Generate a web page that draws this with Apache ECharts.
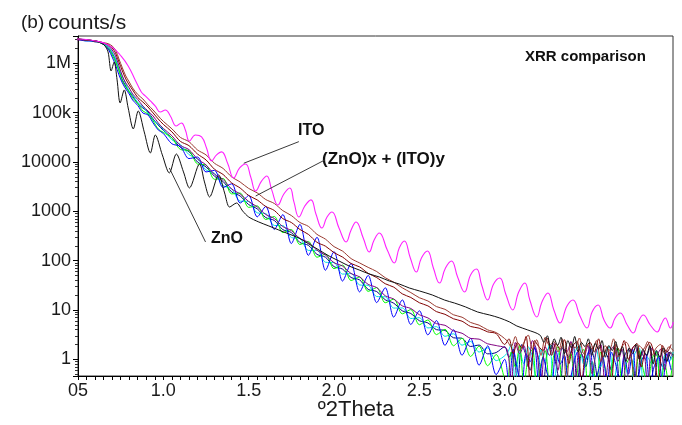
<!DOCTYPE html>
<html><head><meta charset="utf-8">
<script src="https://cdn.jsdelivr.net/npm/echarts@6/dist/echarts.min.js"></script>
<style>html,body{margin:0;padding:0;background:#fff}#c{width:682px;height:425px}</style>
</head><body><div id="c"></div>
<script>
// ---- axis tick labels ----
const xTickValues = [0.5, 1.0, 1.5, 2.0, 2.5, 3.0, 3.5];
const xTickText = ['05', '1.0', '1.5', '2.0', '2.5', '3.0', '3.5'];
const yTickValues = [1, 10, 100, 1000, 10000, 100000, 1000000];
const yTickText = ['1', '10', '100', '1000', '10000', '100k', '1M'];

// ---- 2Theta sampling for the (ZnO)x + (ITO)y family ----
const mainX = [0.49,0.55,0.60,0.64,0.66,0.68,0.70,0.72,0.74,0.76,0.78,0.80,0.82,0.85,0.88,0.91,0.94,0.97,
1.00,1.05,1.10,1.15,1.20,1.25,1.30,1.35,1.40,1.45,1.50,1.55,1.60,1.65,1.70,1.75,1.80,1.85,1.90,1.95,
2.00,2.05,2.10,2.15,2.20,2.25,2.30,2.35,2.40,2.45,2.50,2.55,2.60,2.65,2.70,2.75,2.80,2.85,2.90,2.95];
const noiseXA = [3.000,3.025,3.050,3.075,3.100,3.125,3.150,3.175,3.200,3.225,3.250,3.275,3.300,3.325,3.350,3.375,3.400,3.425,3.450,3.475,
3.500,3.525,3.550,3.575,3.600,3.625,3.650,3.675,3.700,3.725,3.750,3.775,3.800,3.825,3.850,3.875,3.900,3.925,3.950,3.975];
const noiseXB = [3.0125,3.0375,3.0625,3.0875,3.1125,3.1375,3.1625,3.1875,3.2125,3.2375,3.2625,3.2875,3.3125,3.3375,3.3625,3.3875,3.4125,3.4375,3.4625,3.4875,
3.5125,3.5375,3.5625,3.5875,3.6125,3.6375,3.6625,3.6875,3.7125,3.7375,3.7625,3.7875,3.8125,3.8375,3.8625,3.8875,3.9125,3.9375,3.9625,3.9875];

const brownY = [3.11e6,2.97e6,2.84e6,2.64e6,2.58e6,2.47e6,2.24e6,1.86e6,1.22e6,8.04e5,5.53e5,4.19e5,3.16e5,2.33e5,1.89e5,1.43e5,1.13e5,8.55e4,
6.64e4,4.70e4,3.14e4,2.58e4,1.75e4,1.39e4,9380,7380,4980,3920,2900,2360,1730,1440,1030,820,593,494,341,272,
192,156,110,89.7,72.9,60.1,45.0,36.6,28.1,22.5,17.7,15.2,11.7,10.3,7.98,7.13,5.58,4.92,3.95,3.48,
2.4,1.8,2.9,1.5,2.2,3.1,1.6,2.5,1.2,2.8,1.9,2.3,1.4,2.6,0.3,2.1,1.7,2.7,1.3,2.0,1.6,2.4,0.9,1.9,1.5,2.6,1.1,1.8,2.2,1.4,0.3,1.9,1.6,2.3,1.2,1.7,2.0,1.3,1.8,1.5];

const maroonY = [3.11e6,2.97e6,2.84e6,2.64e6,2.47e6,2.35e6,2.05e6,1.62e6,1.06e6,6.98e5,4.81e5,3.64e5,2.88e5,2.03e5,1.64e5,1.30e5,9.84e4,7.43e4,
5.77e4,4.08e4,2.61e4,2.14e4,1.45e4,1.10e4,7100,5570,3770,2960,2090,1700,1250,1040,710,592,428,340,235,196,
145,118,87.3,74.5,55.2,45.4,34.0,29.0,21.2,17.9,14.0,12.1,9.25,8.17,6.62,5.92,4.63,4.28,3.60,3.32,
2.0,2.6,1.3,2.2,1.7,2.9,0.3,2.4,1.8,1.5,2.7,1.2,2.1,1.6,2.5,0.8,1.9,2.3,0.3,1.7,2.2,1.4,2.6,1.1,1.8,0.3,2.0,1.5,2.4,1.0,1.7,2.1,0.7,1.6,2.2,1.3,0.3,1.9,1.4,2.0];

const purpleY = [2.97e6,2.97e6,2.84e6,2.64e6,2.47e6,2.24e6,1.86e6,1.41e6,8.83e5,5.53e5,3.99e5,3.16e5,2.39e5,1.85e5,1.36e5,1.08e5,8.55e4,6.17e4,
4.79e4,3.39e4,2.16e4,1.78e4,1.15e4,8710,5610,4420,2840,2240,1580,1230,859,714,489,406,281,234,162,129,
91.0,77.4,54.8,46.7,33.0,28.4,19.4,16.6,12.1,10.7,8.0,6.90,5.28,4.89,3.78,3.37,2.65,2.56,2.06,1.90,
1.6,0.3,2.2,1.3,1.9,0.7,2.4,1.5,0.3,1.8,1.2,2.1,0.6,1.7,1.4,2.3,0.3,1.6,1.1,1.9,0.5,1.5,2.0,0.3,1.3,1.8,0.9,1.6,0.3,1.4,1.9,1.0,1.5,0.3,1.7,1.2,1.6,0.6,1.4,1.1];

const cyanY = [3.11e6,2.84e6,2.84e6,2.52e6,2.36e6,2.14e6,1.69e6,1.22e6,7.67e5,5.27e5,3.80e5,2.75e5,2.28e5,1.61e5,1.30e5,9.84e4,7.10e4,5.87e4,
4.56e4,2.81e4,2.26e4,1.41e4,1.15e4,6890,5870,3330,2840,1610,1580,929,899,516,512,294,281,161,162,92.7,
91.0,53.3,54.8,32.1,31.5,18.7,18.5,10.9,11.0,6.70,6.97,4.32,4.59,2.92,3.29,1.93,2.30,1.40,1.71,0.94,
1.3,2.0,0.3,1.5,0.8,1.8,1.1,0.3,1.6,0.9,2.1,0.3,1.2,1.7,0.6,0.3,1.4,1.9,0.8,1.2,0.3,1.6,0.7,1.3,1.8,0.3,1.0,1.5,0.6,0.3,1.3,1.7,0.3,1.1,0.8,1.5,0.3,1.2,0.9,1.4];

const navyY = [3.11e6,2.97e6,2.71e6,2.64e6,2.36e6,2.04e6,1.62e6,1.17e6,7.33e5,4.59e5,3.47e5,2.62e5,2.17e5,1.53e5,1.24e5,1.03e5,7.43e4,5.61e4,
4.36e4,3.08e4,1.97e4,1.62e4,9980,7930,5120,4020,2470,2040,1370,1120,746,652,425,371,233,204,134,117,
75.5,67.3,45.5,40.6,26.1,23.6,16.1,13.7,9.59,8.47,6.05,5.46,3.99,3.86,2.73,2.67,1.82,1.94,1.29,1.37,
1.8,1.1,1.6,0.3,2.0,1.2,0.6,1.7,1.0,0.3,1.5,1.9,0.8,0.3,1.6,1.1,2.0,0.3,1.3,0.7,1.8,1.0,0.3,1.5,1.2,0.6,1.7,0.3,1.1,1.6,0.8,0.3,1.4,1.0,1.8,0.3,1.2,0.7,1.5,1.0];

const limeY = [3.11e6,2.97e6,2.84e6,2.52e6,2.24e6,1.95e6,1.48e6,1.06e6,7.00e5,4.38e5,3.31e5,2.62e5,1.98e5,1.53e5,1.08e5,9.40e4,6.78e4,4.66e4,
3.97e4,3.08e4,1.79e4,1.70e4,9080,8710,4450,4620,2250,2340,1200,1290,681,785,369,427,212,245,117,135,
68.7,81.1,39.5,46.7,23.8,28.4,14.0,16.6,8.34,10.2,5.02,6.28,3.16,4.06,1.88,2.67,1.14,1.85,0.74,1.25,
0.3,1.4,0.7,1.9,0.3,1.1,1.6,0.3,0.8,1.5,0.3,1.2,1.8,0.3,0.6,1.3,0.3,1.0,1.6,0.3,0.9,0.3,1.4,0.7,0.3,1.2,1.7,0.3,0.8,1.1,0.3,1.5,0.6,0.3,1.0,1.4,0.3,0.8,0.3,1.2];

const blueY = [3.11e6,2.84e6,2.84e6,2.52e6,2.24e6,1.86e6,1.34e6,9.25e5,5.81e5,3.99e5,3.01e5,2.39e5,1.80e5,1.40e5,9.84e4,8.97e4,6.17e4,4.45e4,
3.78e4,2.33e4,2.06e4,1.17e4,1.26e4,6280,6760,3040,3600,1470,2090,771,1250,428,855,222,541,128,297,63.8,
152,38.5,87.3,23.2,50.2,14.1,28.2,7.14,16.0,5.07,9.64,3.12,6.08,1.92,3.96,1.21,2.65,0.76,1.87,0.49,
1.0,0.3,1.6,0.6,0.3,1.3,0.9,1.8,0.3,1.1,0.5,0.3,1.5,0.8,1.2,0.3,0.7,1.4,0.3,1.0,1.6,0.3,0.6,1.1,0.3,1.4,0.8,0.3,1.2,0.5,1.6,0.3,0.9,1.3,0.3,0.7,1.1,0.3,1.3,0.6];

// ---- ZnO (black) ----
const znoData = [[0.488,3.11e6],[0.559,2.97e6],[0.618,2.71e6],[0.653,2.35e6],[0.676,1.70e6],[0.694,6.98e5],[0.712,1.06e6],[0.729,4.6e5],[0.747,1.57e5],[0.771,2.88e5],[0.794,1.24e5],[0.824,4.67e4],[0.853,1.08e5],[0.888,4.06e4],[0.924,1.52e4],[0.953,3.52e4],[0.994,1.39e4],[1.035,5980],[1.076,1.45e4],[1.118,6270],[1.153,2970],[1.212,9100],[1.241,3930],[1.271,1950],[1.324,5450],[1.359,2350],[1.388,1220],[1.429,1470],[1.465,1010],[1.5,767],[1.559,607],[1.618,504],[1.676,418],[1.735,347],[1.794,288],[1.853,217],[1.912,164],[1.971,124],[2.029,98.4],[2.088,77.8],[2.147,64.7],[2.206,53.7],[2.265,46.6],[2.324,38.6],[2.382,33.6],[2.441,27.9],[2.5,24.3],[2.576,20.1],[2.647,15.9],[2.706,13.8],[2.771,11.5],[2.841,9.1],[2.912,7.9],[2.971,6.87],[3.029,5.7],[3.071,4.73],[3.135,3.93],[3.206,3.11],
[3.23,2.2],[3.25,3.0],[3.27,1.6],[3.29,2.6],[3.31,1.9],[3.33,2.8],[3.35,1.3],[3.37,2.4],[3.39,1.7],[3.41,2.9],[3.43,1.4],[3.45,2.2],[3.47,1.8],[3.49,2.6],[3.51,1.2],[3.53,2.1],[3.55,1.6],[3.57,2.4],[3.59,1.1],[3.61,1.9],[3.63,1.5],[3.65,2.3],[3.67,1.2],[3.69,1.8],[3.71,0.9],[3.73,1.7],[3.75,1.3],[3.77,2.0],[3.79,1.0],[3.81,1.6],[3.83,1.2],[3.85,1.9],[3.87,0.8],[3.89,1.5],[3.91,1.1],[3.93,1.7],[3.95,0.9],[3.97,1.4],[3.99,1.2]];

// ---- ITO (magenta) ----
const itoData = [[0.488,3.11e6],[0.571,2.97e6],[0.629,2.71e6],[0.665,2.47e6],[0.706,2.05e6],[0.747,1.47e6],[0.794,8.83e5],[0.835,4.6e5],[0.871,2.62e5],[0.894,2.18e5],[0.924,1.72e5],[0.953,1.36e5],[0.982,1.03e5],[1.012,1.13e5],[1.041,8.55e4],[1.076,5.37e4],[1.106,6.17e4],[1.129,4.45e4],[1.153,2.66e4],[1.188,3.52e4],[1.224,3.21e4],[1.253,1.92e4],[1.282,1.05e4],[1.312,1.39e4],[1.341,1.6e4],[1.376,9540],[1.412,4730],[1.447,7550],[1.482,9100],[1.512,4960],[1.541,2580],[1.576,4120],[1.606,5200],[1.635,2710],[1.671,1340],[1.706,2245],[1.741,2970],[1.765,1545],[1.794,767],[1.829,1280],[1.865,1700],[1.894,883],[1.929,459],[1.959,767],[1.988,968],[2.029,459],[2.071,239],[2.1,418],[2.129,607],[2.171,288],[2.206,150],[2.235,262],[2.265,364],[2.312,164],[2.353,89.5],[2.382,180],[2.412,250],[2.447,113],[2.482,58.9],[2.512,113],[2.547,157],[2.582,70.9],[2.618,35.2],[2.653,70.9],[2.688,98.4],[2.724,46.6],[2.765,23.1],[2.8,51.2],[2.835,67.6],[2.865,32.1],[2.9,15.9],[2.935,33.6],[2.971,44.5],[3.006,21.1],[3.047,10],[3.082,23.1],[3.118,35.2],[3.147,15.9],[3.188,7.2],[3.218,14.5],[3.253,22.1],[3.288,10],[3.324,5.44],[3.365,12.0],[3.4,15.9],[3.441,7.55],[3.482,4.31],[3.512,9.1],[3.547,12.6],[3.582,6.26],[3.618,4.31],[3.647,6.87],[3.676,8.69],[3.718,4.96],[3.753,3.41],[3.782,5.7],[3.812,7.91],[3.853,4.96],[3.894,3.58],[3.918,5.2],[3.941,6.87],[3.971,4.31],[3.988,5.7]];

// ---- annotation pointer lines (data coordinates) ----
const itoPointer = [[1.794, 25800], [1.471, 9400]];
const mixPointer = [[1.947, 11000], [1.541, 2040]];
const znoPointer = [[1.247, 239], [1.035, 7550]];

const mixFamily = [
  {y: navyY, color: '#000080', nx: noiseXA},
  {y: cyanY, color: '#00e0e0', nx: noiseXB},
  {y: limeY, color: '#00ff00', nx: noiseXB},
  {y: blueY, color: '#0000ff', nx: noiseXA},
  {y: purpleY, color: '#800080', nx: noiseXB},
  {y: maroonY, color: '#800000', nx: noiseXA},
  {y: brownY, color: '#9a3a30', nx: noiseXB}
];

function lineSeries(data, color, width, smooth) {
  return {type: 'line', data: data, symbol: 'none', showSymbol: false, clip: true, silent: true, smooth: smooth,
    lineStyle: {color: color, width: width}, emphasis: {disabled: true}, z: 2};
}
const series = mixFamily.map(s => {
  const xs = mainX.concat(s.nx);
  return lineSeries(xs.map((x, i) => [x, s.y[i]]), s.color, 1, 0.3);
});
series.push(lineSeries(znoData, '#111111', 1, 0.3));
series.push(lineSeries(itoData, '#ff22ff', 1.1, 0.45));
[itoPointer, mixPointer, znoPointer].forEach(p => series.push(lineSeries(p, '#3a3a3a', 1, false)));

const labelFont = 'Liberation Sans';
const chart = echarts.init(document.getElementById('c'));
chart.setOption({
  animation: false,
  backgroundColor: '#ffffff',
  grid: {left: 78, right: 9, top: 36, bottom: 49, show: true, borderColor: '#333', borderWidth: 1, backgroundColor: 'transparent'},
  xAxis: {
    type: 'value', min: 0.5, max: 3.986, interval: 0.05,
    axisLine: {onZero: false, lineStyle: {color: '#000', width: 1}},
    axisTick: {show: true, length: 4, lineStyle: {color: '#000'}},
    splitLine: {show: false},
    axisLabel: {
      fontFamily: labelFont, fontSize: 18, color: '#1a1a1a', margin: 6, showMaxLabel: false,
      formatter: function (v) {
        for (let i = 0; i < xTickValues.length; i++) if (Math.abs(v - xTickValues[i]) < 1e-6) return xTickText[i];
        return '';
      }
    }
  },
  yAxis: {
    type: 'log', logBase: 10, min: 0.4585, max: 3.57e6,
    axisLine: {show: true, lineStyle: {color: '#000', width: 1}},
    axisTick: {show: true, length: 5, lineStyle: {color: '#000'}},
    minorTick: {show: true, splitNumber: 9, length: 3, lineStyle: {color: '#333'}},
    splitLine: {show: false}, minorSplitLine: {show: false},
    axisLabel: {
      fontFamily: labelFont, fontSize: 18, color: '#1a1a1a', margin: 7, showMinLabel: false, showMaxLabel: false,
      formatter: function (v) {
        for (let i = 0; i < yTickValues.length; i++) if (Math.abs(v / yTickValues[i] - 1) < 1e-6) return yTickText[i];
        return '';
      }
    }
  },
  series: series,
  graphic: [
    {type: 'text', x: 21, y: 23, style: {text: '(b)', fontFamily: labelFont, fontSize: 19, fill: '#1a1a1a', align: 'left', verticalAlign: 'middle', textAlign: 'left', textVerticalAlign: 'middle'}},
    {type: 'text', x: 48, y: 23, style: {text: 'counts/s', fontFamily: labelFont, fontSize: 21, fill: '#1a1a1a', align: 'left', verticalAlign: 'middle', textAlign: 'left', textVerticalAlign: 'middle'}},
    {type: 'text', x: 525, y: 57, style: {text: 'XRR comparison', fontFamily: labelFont, fontWeight: 'bold', fontSize: 15, fill: '#111', align: 'left', verticalAlign: 'middle', textAlign: 'left', textVerticalAlign: 'middle'}},
    {type: 'text', x: 298, y: 131, style: {text: 'ITO', fontFamily: labelFont, fontWeight: 'bold', fontSize: 16, fill: '#111', align: 'left', verticalAlign: 'middle', textAlign: 'left', textVerticalAlign: 'middle'}},
    {type: 'text', x: 322, y: 159, style: {text: '(ZnO)x + (ITO)y', fontFamily: labelFont, fontWeight: 'bold', fontSize: 17, fill: '#111', align: 'left', verticalAlign: 'middle', textAlign: 'left', textVerticalAlign: 'middle'}},
    {type: 'text', x: 211, y: 239, style: {text: 'ZnO', fontFamily: labelFont, fontWeight: 'bold', fontSize: 16, fill: '#111', align: 'left', verticalAlign: 'middle', textAlign: 'left', textVerticalAlign: 'middle'}},
    {type: 'text', x: 356, y: 410, style: {text: 'º2Theta', fontFamily: labelFont, fontSize: 22, fill: '#1a1a1a', align: 'center', verticalAlign: 'middle', textAlign: 'center', textVerticalAlign: 'middle'}}
  ]
});
</script>
</body></html>
